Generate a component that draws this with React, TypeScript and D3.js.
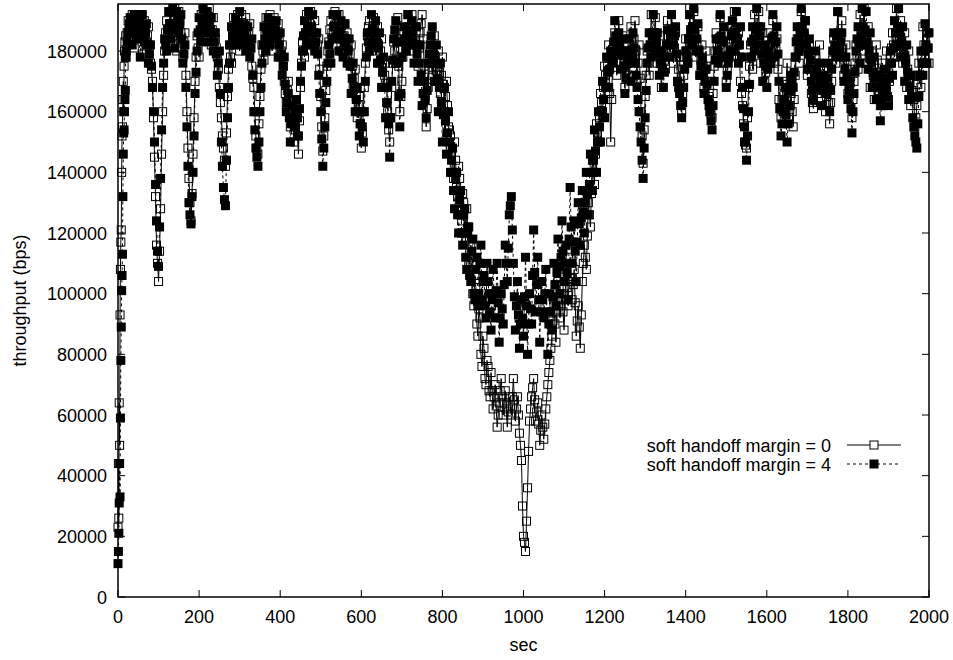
import React from "react";
import * as d3 from "d3";

// ---- data (throughput in thousands of bps) ----
const RAMP_STEP = 1; // seconds between start-up samples (sec 0..19)
const MAIN_START = 20; // first sec of the main samples
const MAIN_STEP = 5; // seconds between main samples (half samples sit in between)

const seriesLabels = ["soft handoff margin = 0", "soft handoff margin = 4"];

const ramp0 = [23, 44, 26, 64, 50, 93, 108, 117, 121, 140, 152, 155, 164, 170, 160, 175, 180, 183, 178, 185];
const ramp4 = [11, 15, 21, 31, 44, 33, 59, 78, 89, 101, 106, 113, 132, 146, 153, 154, 160, 164, 167, 178];

// samples at sec 20, 25, ... 2000
const main0 = [
  178, 190, 184, 192, 181, 191, 185, 192, 179, 190, 183, 188, 176, 170, 145, 116, 104, 128, 160, 180,
  190, 182, 193, 185, 194, 180, 193, 186, 178, 186, 160, 138, 124, 146, 170, 185, 178, 192, 184, 193,
  185, 194, 182, 191, 184, 178, 168, 158, 148, 142, 165, 182, 176, 191, 184, 192, 180, 192, 183, 191,
  182, 189, 175, 168, 152, 146, 165, 182, 177, 191, 184, 192, 180, 191, 183, 189, 178, 182, 170, 163,
  170, 155, 162, 150, 158, 146, 168, 183, 178, 192, 184, 193, 182, 190, 180, 184, 165, 147, 158, 175,
  183, 190, 182, 193, 185, 192, 180, 189, 182, 186, 176, 182, 168, 174, 158, 165, 148, 160, 176, 185,
  190, 180, 191, 182, 188, 176, 184, 168, 176, 160, 150, 168, 183, 176, 191, 160, 170, 186, 180, 192,
  183, 192, 180, 188, 175, 186, 192, 175, 155, 168, 180, 172, 185, 170, 180, 166, 178, 160, 170, 155,
  152, 140, 150, 135, 142, 126, 133, 120, 128, 110, 116, 100, 106, 90, 95, 80, 86, 72, 78, 68,
  74, 62, 70, 56, 64, 72, 60, 68, 56, 66, 60, 72, 58, 66, 54, 45, 20, 15, 36, 58,
  66, 72, 58, 64, 50, 60, 52, 62, 70, 78, 86, 96, 84, 104, 92, 100, 88, 108, 96, 112,
  98, 108, 86, 96, 82, 104, 116, 108, 130, 122, 144, 136, 156, 150, 166, 160, 175, 168, 182, 150,
  178, 186, 172, 190, 176, 185, 168, 180, 172, 188, 178, 190, 170, 182, 160, 143, 165, 180, 172, 192,
  180, 191, 176, 185, 168, 180, 174, 190, 180, 192, 176, 186, 170, 178, 160, 172, 184, 176, 192, 183,
  193, 178, 188, 172, 182, 168, 180, 170, 160, 158, 175, 186, 178, 191, 176, 186, 170, 178, 188, 180,
  193, 182, 186, 170, 162, 150, 148, 168, 182, 174, 192, 181, 193, 176, 186, 170, 176, 186, 178, 190,
  176, 184, 164, 158, 170, 162, 176, 158, 166, 155, 172, 184, 176, 193, 180, 190, 172, 182, 166, 161,
  176, 168, 182, 166, 174, 160, 170, 156, 170, 184, 176, 193, 180, 190, 172, 182, 166, 174, 158, 170,
  182, 174, 192, 180, 194, 176, 188, 168, 180, 164, 182, 172, 162, 176, 166, 180, 164, 176, 186, 178,
  194, 180, 190, 176, 186, 168, 180, 162, 172, 155, 162, 176, 168, 188, 176, 186, 176,
];

// samples at sec 22.5, 27.5, ... 1997.5
const half0 = [
  186, 187, 188, 186, 188, 187, 189, 185, 186, 186, 185, 182, 174, 158, 132, 110, 114, 146, 172, 186,
  187, 189, 188, 190, 186, 188, 190, 181, 183, 172, 148, 130, 133, 158, 178, 181, 186, 188, 190, 189,
  190, 187, 187, 186, 181, 174, 163, 152, 144, 153, 174, 178, 185, 187, 189, 185, 187, 186, 188, 186,
  186, 181, 171, 160, 148, 156, 174, 180, 185, 187, 189, 185, 186, 188, 186, 183, 180, 175, 166, 167,
  162, 158, 156, 154, 152, 157, 176, 180, 186, 188, 189, 188, 186, 185, 182, 174, 155, 152, 167, 180,
  187, 186, 188, 189, 189, 186, 185, 185, 184, 181, 179, 175, 171, 165, 162, 156, 153, 168, 181, 188,
  185, 186, 187, 185, 182, 180, 176, 172, 168, 154, 158, 176, 180, 184, 175, 165, 178, 183, 186, 188,
  188, 186, 184, 182, 181, 189, 184, 165, 161, 174, 176, 179, 178, 175, 173, 172, 169, 165, 162, 154,
  146, 138, 144, 132, 138, 124, 130, 118, 122, 106, 112, 96, 102, 86, 92, 76, 82, 70, 76, 66,
  68, 66, 63, 60, 68, 66, 64, 62, 61, 63, 66, 65, 62, 60, 50, 30, 18, 25, 48, 62,
  69, 65, 61, 57, 55, 56, 57, 66, 74, 82, 91, 90, 94, 98, 96, 94, 98, 102, 104, 105,
  103, 97, 91, 89, 93, 110, 112, 119, 126, 133, 140, 146, 153, 158, 163, 168, 172, 175, 166, 164,
  182, 179, 181, 183, 180, 176, 174, 176, 180, 183, 184, 180, 176, 171, 152, 154, 172, 176, 182, 186,
  186, 183, 180, 176, 174, 177, 182, 185, 186, 184, 181, 178, 174, 169, 166, 178, 180, 184, 187, 188,
  185, 183, 180, 177, 175, 174, 175, 165, 159, 166, 180, 182, 184, 183, 181, 178, 174, 183, 184, 186,
  187, 184, 178, 166, 156, 149, 158, 175, 178, 183, 186, 187, 184, 181, 178, 173, 181, 182, 184, 183,
  180, 174, 161, 164, 166, 169, 167, 162, 160, 164, 178, 180, 185, 186, 185, 181, 177, 174, 163, 168,
  172, 175, 174, 170, 167, 165, 163, 163, 177, 180, 185, 186, 185, 181, 177, 174, 170, 166, 164, 176,
  178, 183, 186, 187, 185, 182, 178, 174, 172, 173, 177, 167, 169, 171, 173, 172, 170, 181, 182, 186,
  187, 185, 183, 181, 177, 174, 171, 167, 164, 158, 169, 172, 178, 182, 181, 181,
];

const main4 = [
  180, 186, 191, 182, 192, 184, 190, 178, 192, 183, 189, 176, 182, 168, 150, 124, 109, 138, 168, 184,
  180, 193, 184, 194, 181, 193, 186, 192, 176, 182, 155, 130, 123, 140, 166, 180, 191, 183, 194, 186,
  193, 183, 191, 180, 186, 172, 180, 150, 135, 129, 158, 176, 188, 182, 191, 184, 193, 182, 189, 180,
  188, 178, 184, 160, 148, 142, 160, 176, 188, 180, 191, 182, 190, 184, 190, 178, 186, 172, 178, 160,
  166, 150, 162, 155, 164, 152, 170, 180, 190, 183, 193, 182, 192, 180, 186, 172, 160, 142, 155, 170,
  182, 176, 192, 184, 192, 180, 190, 178, 189, 176, 184, 166, 176, 160, 168, 152, 160, 150, 170, 186,
  180, 192, 182, 190, 176, 186, 168, 178, 158, 168, 145, 170, 184, 190, 176, 155, 178, 188, 180, 192,
  182, 190, 176, 188, 170, 182, 162, 170, 158, 176, 182, 188, 170, 182, 160, 176, 150, 168, 146, 160,
  140, 148, 128, 140, 120, 134, 116, 128, 108, 122, 104, 118, 98, 112, 100, 116, 104, 96, 110, 100,
  88, 108, 92, 110, 84, 100, 90, 116, 104, 126, 132, 110, 88, 104, 82, 98, 86, 112, 80, 100,
  90, 121, 94, 112, 84, 104, 92, 108, 80, 100, 88, 110, 96, 118, 100, 124, 104, 116, 98, 135,
  110, 124, 104, 130, 116, 134, 120, 140, 126, 146, 134, 154, 140, 160, 150, 170, 158, 178, 168, 180,
  176, 190, 180, 186, 174, 184, 166, 176, 184, 170, 186, 176, 168, 160, 150, 138, 158, 176, 186, 178,
  192, 180, 186, 172, 180, 168, 178, 187, 178, 192, 182, 188, 170, 166, 158, 168, 180, 176, 192, 182,
  194, 180, 189, 172, 178, 166, 174, 164, 160, 154, 170, 184, 176, 192, 178, 188, 168, 176, 180, 190,
  180, 193, 176, 188, 168, 155, 144, 160, 178, 188, 180, 194, 182, 188, 170, 182, 168, 180, 176, 192,
  178, 188, 170, 152, 160, 168, 150, 162, 172, 168, 178, 188, 180, 194, 182, 190, 174, 184, 170, 164,
  180, 168, 176, 162, 172, 166, 176, 160, 174, 186, 178, 193, 180, 186, 170, 178, 164, 170, 153, 166,
  180, 188, 176, 194, 182, 193, 174, 186, 168, 178, 164, 172, 157, 166, 174, 168, 162, 180, 172, 190,
  182, 194, 178, 188, 170, 182, 164, 172, 158, 152, 148, 165, 180, 172, 189, 176, 186,
];

const half4 = [
  183, 189, 187, 187, 188, 187, 184, 185, 187, 186, 182, 179, 175, 160, 136, 114, 122, 154, 176, 182,
  187, 189, 189, 188, 187, 190, 189, 184, 179, 168, 142, 126, 132, 152, 173, 186, 187, 189, 190, 190,
  188, 187, 186, 183, 179, 176, 166, 142, 131, 144, 168, 182, 185, 187, 188, 189, 188, 186, 185, 184,
  183, 181, 172, 154, 145, 150, 168, 182, 184, 186, 187, 186, 187, 187, 184, 182, 179, 175, 169, 163,
  158, 156, 158, 160, 158, 161, 175, 185, 186, 188, 187, 187, 186, 183, 179, 166, 151, 148, 163, 176,
  179, 184, 188, 188, 186, 185, 184, 183, 182, 180, 175, 171, 168, 164, 160, 156, 155, 160, 178, 183,
  186, 187, 186, 183, 181, 177, 173, 168, 163, 156, 158, 177, 187, 183, 165, 166, 183, 184, 186, 187,
  186, 183, 182, 179, 176, 172, 166, 164, 167, 179, 185, 179, 176, 171, 168, 163, 159, 157, 153, 150,
  144, 134, 138, 126, 131, 120, 126, 112, 120, 106, 114, 100, 108, 96, 110, 98, 106, 92, 104, 94,
  98, 100, 101, 97, 92, 95, 103, 110, 115, 129, 121, 99, 96, 93, 90, 92, 99, 96, 90, 95,
  106, 107, 103, 98, 94, 98, 100, 94, 90, 94, 99, 103, 107, 109, 112, 114, 110, 107, 118, 122,
  117, 114, 117, 123, 125, 127, 130, 133, 136, 140, 144, 147, 150, 155, 160, 164, 168, 173, 174, 178,
  183, 185, 183, 180, 179, 175, 171, 180, 177, 178, 181, 172, 164, 155, 144, 148, 167, 181, 182, 185,
  186, 183, 179, 176, 174, 173, 182, 182, 185, 187, 185, 179, 168, 162, 163, 174, 178, 184, 187, 188,
  187, 184, 180, 175, 172, 170, 169, 162, 157, 162, 177, 180, 184, 185, 183, 178, 172, 178, 185, 185,
  186, 184, 182, 178, 161, 150, 152, 169, 183, 184, 187, 188, 185, 179, 176, 175, 174, 178, 184, 185,
  183, 179, 161, 156, 164, 159, 156, 167, 170, 173, 183, 184, 187, 188, 186, 182, 179, 177, 167, 172,
  174, 172, 169, 167, 169, 171, 168, 167, 180, 182, 185, 186, 183, 178, 174, 171, 167, 161, 160, 173,
  184, 182, 185, 188, 187, 183, 180, 177, 173, 171, 168, 164, 162, 170, 171, 165, 171, 176, 181, 186,
  188, 186, 183, 179, 176, 173, 168, 165, 155, 150, 156, 172, 176, 180, 182, 181,
];

const xTicks = [0, 200, 400, 600, 800, 1000, 1200, 1400, 1600, 1800, 2000];
const yTicks = [0, 20000, 40000, 60000, 80000, 100000, 120000, 140000, 160000, 180000];

type Pt = { sec: number; v: number };

function build(ramp: number[], main: number[], half: number[]): Pt[] {
  const pts: Pt[] = [
    ...ramp.map((v, i) => ({ sec: i * RAMP_STEP, v: v * 1000 })),
    ...main.map((v, i) => ({ sec: MAIN_START + i * MAIN_STEP, v: v * 1000 })),
    ...half.map((v, i) => ({ sec: MAIN_START + MAIN_STEP / 2 + i * MAIN_STEP, v: v * 1000 })),
  ];
  return pts.sort((a, b) => a.sec - b.sec);
}

const W = 953;
const H = 660;
const FONT = "'Liberation Sans', Arial, Helvetica, sans-serif";

export default function App() {
  const x = d3.scaleLinear().domain([0, 2000]).range([118, 929]);
  const y = d3.scaleLinear().domain([0, 195500]).range([597, 4]);
  const s0 = build(ramp0, main0, half0);
  const s4 = build(ramp4, main4, half4);
  const line = d3
    .line<Pt>()
    .x((d) => x(d.sec))
    .y((d) => y(d.v));
  const [x0, x1] = x.range();
  const [yb, yt] = y.range();
  const tick = 7;
  const ms = 8;
  const mf = 9;

  const legendTextX = 831;
  const legLineX0 = 847;
  const legLineX1 = 901;
  const legMid = (legLineX0 + legLineX1) / 2;
  const legY = [445, 464];

  return (
    <svg
      width={W}
      height={H}
      style={{ position: "absolute", left: 0, top: 0, background: "#fff" }}
      fontFamily={FONT}
    >
      <rect x={0} y={0} width={W} height={H} fill="#fff" />
      {/* series margin = 0 */}
      <path d={line(s0) || ""} fill="none" stroke="#000" strokeWidth={1} />
      {s0.map((d, i) => (
        <rect
          key={"a" + i}
          x={x(d.sec) - ms / 2}
          y={y(d.v) - ms / 2}
          width={ms}
          height={ms}
          fill="none"
          stroke="#000"
          strokeWidth={1}
        />
      ))}
      {/* series margin = 4 */}
      <path d={line(s4) || ""} fill="none" stroke="#000" strokeWidth={1} strokeDasharray="3,3" />
      {s4.map((d, i) => (
        <rect
          key={"b" + i}
          x={x(d.sec) - mf / 2}
          y={y(d.v) - mf / 2}
          width={mf}
          height={mf}
          fill="#000"
        />
      ))}

      {/* frame */}
      <rect x={x0} y={yt} width={x1 - x0} height={yb - yt} fill="none" stroke="#000" strokeWidth={1.5} />
      {xTicks.map((t) => (
        <g key={"xt" + t}>
          <line x1={x(t)} x2={x(t)} y1={yb} y2={yb - tick} stroke="#000" />
          <line x1={x(t)} x2={x(t)} y1={yt} y2={yt + tick} stroke="#000" />
          <text x={x(t)} y={623} textAnchor="middle" fontSize={18} fill="#000">
            {t}
          </text>
        </g>
      ))}
      {yTicks.map((t) => (
        <g key={"yt" + t}>
          <line x1={x0} x2={x0 + tick} y1={y(t)} y2={y(t)} stroke="#000" />
          <line x1={x1} x2={x1 - tick} y1={y(t)} y2={y(t)} stroke="#000" />
          <text x={107} y={y(t) + 6.5} textAnchor="end" fontSize={18} fill="#000">
            {t}
          </text>
        </g>
      ))}
      <text x={(x0 + x1) / 2} y={651} textAnchor="middle" fontSize={18} fill="#000">
        sec
      </text>
      <text
        transform={`translate(26, ${(yb + yt) / 2}) rotate(-90)`}
        textAnchor="middle"
        fontSize={18}
        fill="#000"
      >
        throughput (bps)
      </text>

      {/* legend */}
      <text x={legendTextX} y={legY[0] + 6.5} textAnchor="end" fontSize={18} fill="#000">
        {seriesLabels[0]}
      </text>
      <line x1={legLineX0} x2={legLineX1} y1={legY[0]} y2={legY[0]} stroke="#000" />
      <rect x={legMid - ms / 2} y={legY[0] - ms / 2} width={ms} height={ms} fill="#fff" stroke="#000" />
      <text x={legendTextX} y={legY[1] + 6.5} textAnchor="end" fontSize={18} fill="#000">
        {seriesLabels[1]}
      </text>
      <line x1={legLineX0} x2={legLineX1} y1={legY[1]} y2={legY[1]} stroke="#000" strokeDasharray="3,3" />
      <rect x={legMid - mf / 2} y={legY[1] - mf / 2} width={mf} height={mf} fill="#000" />
    </svg>
  );
}
